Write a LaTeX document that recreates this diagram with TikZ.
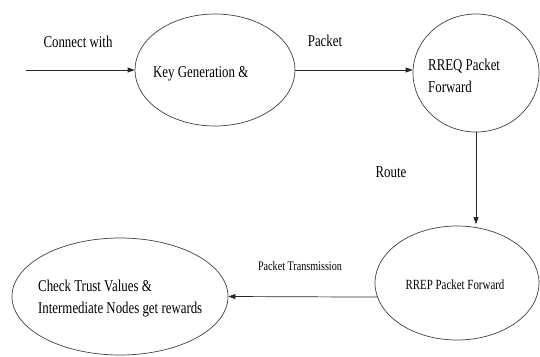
\documentclass[tikz,border=0pt]{standalone}
\usepackage{fontspec}
\setmainfont[FakeStretch=0.78]{Liberation Serif}
\usepackage{tikz}
\usetikzlibrary{arrows.meta,shapes.geometric}

\tikzset{
    state/.style={ellipse, draw=black!75, line width=0.7pt, inner sep=0pt},
    txt/.style={font=\fontsize{16.5}{22}\selectfont, align=left, inner sep=0pt},
    smalltxt/.style={font=\fontsize{13}{16}\selectfont, inner sep=0pt},
    flow/.style={-{Triangle[length=7pt,width=5pt]}, line width=0.7pt, draw=black!85}
}

\begin{document}
\begin{tikzpicture}[x=1pt, y=-1pt]
    \useasboundingbox (0,0) rectangle (540,356);

    % states
    \node[state, minimum width=160pt, minimum height=112pt] (keygen) at (215,70) {};
    \node[state, minimum width=126pt, minimum height=118pt] (rreq) at (476,73) {};
    \node[state, minimum width=164pt, minimum height=114pt] (rrep) at (457,283) {};
    \node[state, minimum width=216pt, minimum height=117pt] (check) at (120,296.5) {};

    % texts inside
    \node[txt, anchor=base west] (keygentxt) at (153,77) {Key Generation \&};
    \node[txt, anchor=west] (rreqtxt) at (428,76) {RREQ Packet\\Forward};
    \node[smalltxt, font=\fontsize{14}{17}\selectfont] (rreptxt) at (455,285) {RREP Packet Forward};
    \node[txt, anchor=west] (checktxt) at (38,299) {Check Trust Values \&\\Intermediate Nodes get rewards};

    % arrows
    \coordinate (in) at (26,70);
    \draw[flow] (in) -- (keygen.west);
    \draw[flow] (keygen.east) -- (keygen.east -| rreq.west);
    \draw[flow, shorten >=1.5pt] (rreq.south) -- (rreq.south |- rrep.north);
    \draw[flow] (rrep.190) -- (check.east);

    % labels
    \node[txt] (connect) at (78,42) {Connect with};
    \node[txt] (packet) at (325,41) {Packet};
    \node[txt] (route) at (391,172) {Route};
    \node[smalltxt] (trans) at (300,266) {Packet Transmission};
\end{tikzpicture}
\end{document}
